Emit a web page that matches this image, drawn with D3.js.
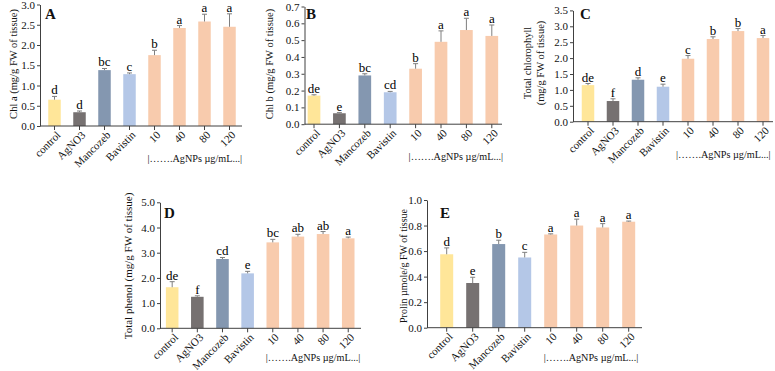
<!DOCTYPE html>
<html><head><meta charset="utf-8">
<script src="https://cdn.jsdelivr.net/npm/d3@7"></script>
<style>
body{margin:0;background:#fff;}
svg text{font-family:"Liberation Serif","Times New Roman",serif;fill:#111;}
</style></head>
<body><svg id="c" width="775" height="371"></svg>
<script>
const categories = ["control","AgNO3","Mancozeb","Bavistin","10","40","80","120"];
const barColors = ["#FFE699","#767171","#8497B0","#B4C7E7","#F8CBAD","#F8CBAD","#F8CBAD","#F8CBAD"];
const groupLabel = "|…….AgNPs µg/mL...|";

const chlA = [0.65,0.34,1.38,1.28,1.75,2.42,2.58,2.45];
const chlAErr = [0.08,0.03,0.04,0.03,0.12,0.06,0.18,0.32];
const chlALetters = ["d","d","bc","c","b","a","a","a"];
const chlATicks = [0,0.5,1,1.5,2,2.5,3];

const chlB = [0.17,0.065,0.29,0.19,0.33,0.49,0.56,0.525];
const chlBErr = [0.005,0.004,0.01,0.005,0.03,0.065,0.07,0.065];
const chlBLetters = ["de","e","bc","cd","b","a","a","a"];
const chlBTicks = [0,0.1,0.2,0.3,0.4,0.5,0.6,0.7];

const totChl = [1.15,0.65,1.32,1.10,1.98,2.60,2.85,2.63];
const totChlErr = [0.05,0.07,0.06,0.08,0.1,0.07,0.08,0.08];
const totChlLetters = ["de","f","d","e","c","b","b","a"];
const totChlTicks = [0,0.5,1,1.5,2,2.5,3,3.5];

const phenol = [1.63,1.25,2.75,2.18,3.41,3.64,3.74,3.57];
const phenolErr = [0.22,0.04,0.06,0.08,0.12,0.09,0.1,0.05];
const phenolLetters = ["de","f","cd","e","bc","ab","ab","a"];
const phenolTicks = [0,1,2,3,4,5];

const prolin = [0.575,0.35,0.655,0.55,0.73,0.80,0.785,0.83];
const prolinErr = [0.05,0.045,0.03,0.04,0.005,0.05,0.03,0.005];
const prolinLetters = ["d","e","b","c","a","a","a","a"];
const prolinTicks = [0,0.2,0.4,0.6,0.8,1.0];

const panels = [
  {id:"A", vals:chlA, err:chlAErr, let:chlALetters, ticks:chlATicks,
   ax:40, axEnd:242, b0:42, b1:242, y0:126, yT:4.5, grp:36, gdx:-7,
   ylab:["Chl a (mg/g  FW of tissue)"], ylx:[13], yly:64, yfs:10.5, lx:45, ly:19},
  {id:"B", vals:chlB, err:chlBErr, let:chlBLetters, ticks:chlBTicks,
   ax:304.5, axEnd:502, b0:301.3, b1:504.5, y0:124.2, yT:6.5, grp:36, gdx:-7,
   ylab:["Chl b (mg/g  FW of tissue)"], ylx:[269], yly:64, yfs:10.5, lx:306, ly:19},
  {id:"C", vals:totChl, err:totChlErr, let:totChlLetters, ticks:totChlTicks,
   ax:573, axEnd:773, b0:575.5, b1:775.5, y0:121.7, yT:10.4, grp:36, gdx:-12,
   ylab:["Total chlorophyll","(mg/g FW of tissue)"], ylx:[527,540], yly:63, yfs:10.5, lx:580, ly:19},
  {id:"D", vals:phenol, err:phenolErr, let:phenolLetters, ticks:phenolTicks,
   ax:160, axEnd:361, b0:159.6, b1:360.8, y0:328.3, yT:202.3, grp:33, gdx:-7,
   ylab:["Total phenol (mg/g FW of tissue)"], ylx:[128], yly:266, yfs:11, lx:164, ly:218},
  {id:"E", vals:prolin, err:prolinErr, let:prolinLetters, ticks:prolinTicks,
   ax:427, axEnd:642, b0:433.7, b1:641.7, y0:327.7, yT:200, grp:33, gdx:-7,
   ylab:["Prolin µmole/g FW of tissue"], ylx:[403], yly:266, yfs:10, lx:440, ly:218}
];

const svg = d3.select("#c");
const color = d3.scaleOrdinal().domain(categories).range(barColors);

panels.forEach(p => {
  const g = svg.append("g");
  const ymax = p.ticks[p.ticks.length-1];
  const y = d3.scaleLinear().domain([0, ymax]).range([p.y0, p.yT]);
  const x = d3.scaleBand().domain(categories).range([p.b0, p.b1]).paddingInner(0.5).paddingOuter(0.25);
  const data = categories.map((c,i)=>({c, v:p.vals[i], e:p.err[i], l:p.let[i]}));
  const cx = c => x(c) + x.bandwidth()/2;

  // bars
  g.selectAll("rect.bar").data(data).join("rect").attr("class","bar")
    .attr("x", d=>x(d.c)).attr("width", x.bandwidth())
    .attr("y", d=>y(d.v)).attr("height", d=>p.y0 - y(d.v))
    .attr("fill", d=>color(d.c));

  // error bars
  const eb = g.selectAll("g.eb").data(data).join("g").attr("class","eb")
    .attr("stroke","#7f7f7f").attr("stroke-width",1);
  eb.append("line").attr("x1", d=>cx(d.c)).attr("x2", d=>cx(d.c))
    .attr("y1", d=>y(d.v)).attr("y2", d=>y(d.v+d.e));
  eb.append("line").attr("x1", d=>cx(d.c)-2.5).attr("x2", d=>cx(d.c)+2.5)
    .attr("y1", d=>y(d.v+d.e)).attr("y2", d=>y(d.v+d.e));

  // letters
  g.selectAll("text.sig").data(data).join("text").attr("class","sig")
    .attr("x", d=>cx(d.c)).attr("y", d=>y(d.v+d.e)-2)
    .attr("text-anchor","middle").attr("font-size",13).style("fill","#000").text(d=>d.l);

  // y axis
  const fmt = d3.format(".1f");
  const ya = g.append("g").attr("transform",`translate(${p.ax},0)`)
    .call(d3.axisLeft(y).tickValues(p.ticks).tickFormat(fmt).tickSize(3).tickSizeOuter(0));
  ya.select(".domain").attr("stroke","#404040");
  ya.selectAll(".tick line").attr("stroke","#404040");
  ya.selectAll(".tick text").attr("font-size",11).attr("x",-5);

  // x axis
  const xa = g.append("g").attr("transform",`translate(0,${p.y0})`);
  xa.append("line").attr("x1",p.ax).attr("x2",p.axEnd).attr("y1",0).attr("y2",0).attr("stroke","#404040");
  xa.selectAll("line.tk").data(categories).join("line").attr("class","tk")
    .attr("x1",cx).attr("x2",cx)
    .attr("y1",0).attr("y2",4).attr("stroke","#404040");
  xa.selectAll("text.xl").data(categories).join("text").attr("class","xl")
    .attr("font-size",11).attr("text-anchor","end")
    .attr("transform",c=>`translate(${cx(c)+4},${7}) rotate(-45)`)
    .attr("dy","0.35em").text(c=>c);

  // group label
  g.append("text").attr("x", cx("10")+p.gdx).attr("y", p.y0 + p.grp)
    .attr("font-size",10.2).text(groupLabel);

  // y label
  p.ylab.forEach((t,i)=>{
    g.append("text").attr("transform",`translate(${p.ylx[i]},${p.yly}) rotate(-90)`)
      .attr("text-anchor","middle").attr("dy","0.35em").attr("font-size",p.yfs).text(t);
  });

  // panel letter
  g.append("text").attr("x",p.lx).attr("y",p.ly).attr("font-size",15).attr("font-weight","bold").text(p.id);
});
</script></body></html>
